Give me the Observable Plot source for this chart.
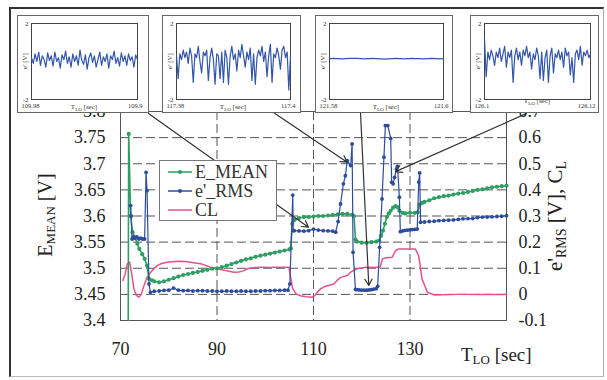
<!DOCTYPE html>
<html><head><meta charset="utf-8">
<script src="https://cdn.jsdelivr.net/npm/d3@7"></script>
<script src="https://cdn.jsdelivr.net/npm/@observablehq/plot@0.6"></script>
<style>
body{margin:0;background:#fff;}
#wrap{position:relative;width:607px;height:380px;overflow:hidden;font-family:"Liberation Serif","DejaVu Serif",serif;background:#fff;}
#wrap svg, #wrap svg text{font-family:"Liberation Serif","DejaVu Serif",serif !important;}
#border{position:absolute;left:9px;top:7px;width:595px;height:370px;border-top:2px solid #333;border-left:2px solid #333;border-right:1px solid #aaa;border-bottom:1px solid #bbb;box-sizing:border-box;}
.inset{position:absolute;background:#fff;border:1px solid #666;box-sizing:border-box;}
.inset svg{display:block;}
#legend{position:absolute;left:159px;top:160px;width:118px;height:61px;background:#fff;border:1px solid #777;box-sizing:border-box;}
#main{position:absolute;left:0;top:0;}
</style></head><body><div id="wrap"><div id="border"></div><div id="main"></div></div>
<script>
// ---------- main series (E_MEAN in left units, e'_RMS and CL in right units) ----------
const eMeanT = [71.6,71.7,72.1,72.5,73.0,73.5,73.9,74.5,75.0,75.5,75.9,76.5,77.0,78.0,79.0,80.0,81.0,82.0,83.0,84.0,85.0,86.0,87.0,88.0,89.0,90.0,91,92,93,94,95,96,97,98,99,100,101,102,103,104,105,105.3,105.6,106.0,107,108,109,110,111,112,113,114,115,116,117,118,118.4,118.7,119.0,120,121,122,123,123.6,124.0,124.4,124.8,125.2,125.6,126.0,126.5,127.0,127.4,127.8,128.5,129,130,131,131.6,132.0,132.5,133,134,135,136,137,138,139,140,141,142,143,144,145,146,147,148,149,150];
const eMeanV = [3.40,3.757,3.60,3.569,3.559,3.547,3.537,3.527,3.518,3.505,3.48,3.477,3.475,3.473,3.475,3.478,3.481,3.484,3.487,3.489,3.491,3.493,3.495,3.497,3.499,3.500,3.502,3.505,3.508,3.511,3.514,3.517,3.519,3.522,3.524,3.526,3.528,3.530,3.532,3.534,3.536,3.538,3.585,3.592,3.596,3.598,3.598,3.599,3.600,3.600,3.601,3.602,3.603,3.604,3.604,3.602,3.600,3.555,3.551,3.549,3.549,3.550,3.551,3.553,3.562,3.572,3.585,3.598,3.605,3.610,3.616,3.619,3.617,3.610,3.606,3.605,3.606,3.606,3.607,3.622,3.625,3.627,3.630,3.634,3.636,3.638,3.639,3.641,3.643,3.644,3.646,3.648,3.650,3.651,3.653,3.655,3.656,3.657,3.658];

const eRmsT = [72.1,72.2,72.4,72.6,73.0,73.4,73.8,74.2,74.6,75.0,75.3,75.5,75.9,76.2,77,78,79,80,81,82,83,84,85,86,87,88,89,90,91,92,93,94,95,96,97,98,99,100,101,102,103,104,104.7,105.1,105.7,105.8,106,107,108,109,110,111,112,113,114,114.6,115.1,115.6,116.2,116.6,117.0,117.7,118.0,118.2,118.7,119,119.5,120,120.5,121,121.5,122,122.5,123,123.3,123.7,124.2,124.6,124.9,125.4,126.0,126.2,126.5,126.8,127.2,127.4,127.8,128.0,128.5,129,129.5,130,130.5,131,131.5,131.8,132.0,132.2,133,134,135,136,137,138,139,140,141,142,143,144,145,146,147,148,149,150];
const eRmsV = [0.34,0.30,0.212,0.22,0.215,0.22,0.212,0.215,0.212,0.212,0.467,0.397,0.04,0.008,0.012,0.013,0.015,0.016,0.024,0.016,0.014,0.015,0.013,0.014,0.014,0.013,0.013,0.012,0.012,0.013,0.012,0.012,0.013,0.012,0.012,0.013,0.013,0.014,0.014,0.015,0.015,0.016,0.016,0.04,0.38,0.244,0.244,0.243,0.242,0.244,0.25,0.246,0.244,0.243,0.242,0.238,0.279,0.346,0.423,0.454,0.512,0.493,0.576,0.161,0.019,0.018,0.017,0.016,0.016,0.016,0.017,0.018,0.02,0.022,0.031,0.18,0.365,0.525,0.646,0.646,0.597,0.429,0.423,0.448,0.48,0.49,0.372,0.24,0.243,0.245,0.246,0.247,0.248,0.249,0.25,0.43,0.465,0.276,0.277,0.279,0.28,0.282,0.283,0.284,0.285,0.287,0.289,0.29,0.29,0.294,0.296,0.296,0.297,0.298,0.299,0.301];

const clT = [70.5,71.0,71.4,71.9,72.3,72.8,73.3,73.8,74.3,74.8,75.5,76.5,77.6,78.5,79.7,80.5,81.5,82.4,83.5,84.5,85.5,86.6,87.5,88.5,90,91,92,93.5,94.5,95.5,96.3,97,98,99,100,101,102,103,104,104.9,105.3,105.7,106.5,107.5,108.5,109.7,110.3,110.8,111.5,112.3,113.3,114.2,114.9,115.5,116.2,117,117.7,118.4,119.1,120.8,123.0,123.8,124.3,125,126.3,127.0,127.7,131.1,131.8,132.5,133.6,135,140,145,150];
const clV = [0.053,0.08,0.117,0.123,0.08,0.02,-0.004,-0.011,0.0,0.03,0.066,0.09,0.11,0.118,0.123,0.125,0.126,0.127,0.126,0.123,0.12,0.117,0.112,0.105,0.098,0.094,0.09,0.085,0.086,0.09,0.098,0.101,0.103,0.104,0.104,0.103,0.104,0.104,0.104,0.104,0.06,0.021,0.0,-0.006,-0.009,-0.011,-0.005,0.008,0.022,0.03,0.035,0.04,0.053,0.064,0.068,0.072,0.085,0.092,0.098,0.104,0.103,0.105,0.136,0.14,0.142,0.168,0.174,0.174,0.148,0.059,0.008,-0.002,0.0,0.0,0.0];

const xTicks = [70,90,110,130];
const xGrid = [90,110,130];
const leftTicks = [3.4,3.45,3.5,3.55,3.6,3.65,3.7,3.75,3.8];
const rightTicks = [-0.1,0,0.1,0.2,0.3,0.4,0.5,0.6,0.7];

// arrows from the insets (start in time / E units, end near curves)
const arrowX1 = [75.8,101.7,119.74,154.1];
const arrowY1 = [3.796,3.798,3.798,3.796];
const arrowX2 = [108.96,116.98,121.46,127.0];
const arrowY2 = [3.5786,3.703,3.467,3.685];

// ---------- insets ----------
const insetTickLabels = [["109.98","109.9"],["117.38","117.4"],["121.58","121.6"],["126.1","126.12"]];
const inset1 = [0.2,-0.1,0.4,0.0,0.5,-0.2,0.3,0.1,-0.3,0.45,0.05,0.3,-0.25,0.5,0.0,0.2,-0.35,0.35,0.1,0.55,-0.1,0.25,-0.3,0.4,0.0,0.3,-0.2,0.6,0.05,-0.15,0.35,-0.4,0.2,0.45,-0.05,0.3,-0.3,0.1,0.5,-0.2,0.25,0.0,0.4,-0.35,0.3,0.1,0.55,-0.1,0.2,-0.25,0.45,0.0,0.3,-0.2,0.4,0.05,0.25,-0.3,0.35,0.1];
const inset2 = [0.3,-0.9,0.4,0.1,0.6,0.2,0.5,-0.1,0.7,0.3,-1.1,0.4,0.2,0.8,0.0,-0.6,0.5,0.3,0.6,-1.0,0.2,0.7,0.1,-1.2,0.4,0.3,-0.9,0.5,-1.1,0.6,0.2,-1.2,0.3,0.8,0.1,0.4,-0.5,0.6,0.2,0.9,0.3,-0.3,0.5,0.1,0.7,-1.0,0.4,-1.2,0.2,0.6,0.3,0.8,0.0,0.5,-0.8,0.3,0.9,-1.1,0.4,0.2,0.7,0.3,-0.4,0.6,0.8,0.2,0.5,-1.5,0.3];
const inset3 = [0.15,0.16,0.15,0.14,0.15,0.16,0.17,0.16,0.15,0.14,0.15,0.16,0.15,0.14,0.13,0.14,0.15,0.16,0.15,0.14,0.15,0.16,0.15,0.15,0.14,0.15,0.16,0.15,0.14,0.15];
const inset4 = [1.2,-0.8,0.5,0.1,0.6,0.3,-0.2,0.5,0.2,0.7,0.0,0.4,0.8,-0.3,0.5,0.2,0.6,-1.1,0.3,0.7,0.1,0.5,-0.2,0.6,0.3,0.8,0.2,0.5,-0.4,0.4,0.1,0.7,0.3,-0.9,0.5,-1.0,0.2,0.6,-1.1,0.3,0.7,-0.6,0.4,0.2,0.6,0.1,0.5,-0.3,0.7,0.3,0.5,-0.7,0.2,-1.1,0.4,0.6,0.1,0.8,-0.2,0.5,0.3,0.6,0.2,0.4];

// ---------- build ----------
const GREEN = "#2f9e62", BLUE = "#2c4d9e", PINK = "#ea4f8a";
const toL = r => 3.4 + (r + 0.1) / 2;          // right axis -> left axis units
const fromL = v => (v - 3.4) * 2 - 0.1;

const eMean = eMeanT.map((t,i)=>({t, v:eMeanV[i]}));
const eRms = eRmsT.map((t,i)=>({t, v:toL(eRmsV[i])}));
const cl = clT.map((t,i)=>({t, v:toL(clV[i])}));
const arrows = arrowX1.map((x,i)=>({x1:x, y1:arrowY1[i], x2:arrowX2[i], y2:arrowY2[i]}));

const serif = "'Liberation Serif', 'DejaVu Serif', serif";
const main = Plot.plot({
  width:607, height:380,
  marginLeft:120, marginRight:101, marginTop:111, marginBottom:60,
  x:{domain:[70,150]},
  y:{domain:[3.4,3.8]},
  style:{fontFamily:serif, fontSize:"18px", background:"transparent", color:"#222", overflow:"visible"},
  marks:[
    Plot.gridY(leftTicks.slice(1,-1), {stroke:"#555", strokeOpacity:1, strokeDasharray:"9,4"}),
    Plot.gridX(xGrid, {stroke:"#555", strokeOpacity:1, strokeDasharray:"9,4"}),
    Plot.frame({stroke:"#555"}),
    Plot.line(cl, {x:"t", y:"v", stroke:PINK, strokeWidth:1.5}),
    Plot.line(eMean, {x:"t", y:"v", stroke:GREEN, strokeWidth:1.6}),
    Plot.dot(eMean.slice(1), {x:"t", y:"v", fill:GREEN, r:2.1}),
    Plot.line(eRms, {x:"t", y:"v", stroke:BLUE, strokeWidth:1.2}),
    Plot.dot(eRms, {x:"t", y:"v", fill:BLUE, r:1.9}),
    Plot.arrow(arrows, {x1:"x1", y1:"y1", x2:"x2", y2:"y2", stroke:"#333", strokeWidth:1.2, headLength:9}),
    Plot.axisY({ticks:leftTicks, tickSize:0, tickPadding:15, label:null, tickFormat:d=>String(+d.toFixed(2))}),
    Plot.axisY({anchor:"right", ticks:rightTicks.map(toL), tickSize:0, tickPadding:12, label:null, tickFormat:d=>String(+fromL(d).toFixed(1))}),
    Plot.axisX({ticks:xTicks, tickSize:0, tickPadding:22, label:null})
  ]
});
document.getElementById("main").appendChild(main);

// axis titles with subscripts
const svg = d3.select(main);
const lt = svg.append("text").attr("transform","translate(52,215) rotate(-90)").attr("text-anchor","middle")
  .attr("font-size",20).attr("fill","#222");
lt.append("tspan").text("E");
lt.append("tspan").attr("font-size",13).attr("dy",3).text("MEAN");
lt.append("tspan").attr("dy",-3).text(" [V]");
const rt = svg.append("text").attr("transform","translate(562,216) rotate(-90)").attr("text-anchor","middle")
  .attr("font-size",21).attr("fill","#222");
rt.append("tspan").text("e'");
rt.append("tspan").attr("font-size",14).attr("dy",4).text("RMS");
rt.append("tspan").attr("dy",-4).text(" [V], C");
rt.append("tspan").attr("font-size",14).attr("dy",4).text("L");
const xt = svg.append("text").attr("x",461).attr("y",361).attr("text-anchor","start").attr("font-size",19).attr("fill","#222");
xt.append("tspan").text("T");
xt.append("tspan").attr("font-size",13).attr("dy",3).text("LO");
xt.append("tspan").attr("dy",-3).text(" [sec]");

// legend
const leg = d3.select("#wrap").append("div").attr("id","legend");
const lsvg = leg.append("svg").attr("width",116).attr("height",59);
[["E_MEAN",GREEN,true],["e'_RMS",BLUE,true],["CL",PINK,false]].forEach(([name,col,dot],i)=>{
  const y = 11 + i*19;
  lsvg.append("line").attr("x1",8).attr("x2",32).attr("y1",y).attr("y2",y).attr("stroke",col).attr("stroke-width",1.5);
  if (dot) lsvg.append("circle").attr("cx",20).attr("cy",y).attr("r",2).attr("fill",col);
  lsvg.append("text").attr("x",35).attr("y",y+6).attr("font-size",18).attr("fill","#333").text(name);
});

// insets
const insetBoxes = [
  {left:17, top:15, w:132, h:98, mL:13, mR:11, mT:7, mB:13, data:inset1, tdy:0},
  {left:162, top:15, w:139, h:98, mL:13, mR:10, mT:7, mB:13, data:inset2, tdy:0},
  {left:315, top:15, w:138, h:98, mL:13, mR:9, mT:7, mB:13, data:inset3, tdy:0},
  {left:470, top:15, w:129, h:98, mL:13, mR:8, mT:7, mB:13, data:inset4, tdy:-6}
];
insetBoxes.forEach((b,k)=>{
  const div = d3.select("#wrap").append("div").attr("class","inset")
    .style("left",b.left+"px").style("top",b.top+"px").style("width",b.w+"px").style("height",b.h+"px");
  const n = b.data.length - 1;
  const labs = insetTickLabels[k];
  const p = Plot.plot({
    width:b.w-2, height:b.h-2, marginLeft:b.mL, marginRight:b.mR, marginTop:b.mT, marginBottom:b.mB,
    x:{domain:[0,n], axis:null}, y:{domain:[-2,2]},
    style:{fontFamily:serif, fontSize:"7px", background:"#fff", color:"#333"},
    marks:[
      Plot.frame({stroke:"#444"}),
      Plot.line(b.data, {x:(d,i)=>i, y:d=>d, stroke:"#3355aa", strokeWidth:1.2}),
      Plot.axisY({ticks:[-2,2], tickSize:0, tickPadding:3, label:null, fontSize:7, tickFormat:d=>String(d)}),
      Plot.text([labs[0]], {frameAnchor:"bottom-left", text:d=>d, textAnchor:"start", dx:-10, dy:8, fontSize:6.5}),
      Plot.text([labs[1]], {frameAnchor:"bottom-right", text:d=>d, textAnchor:"end", dx:5, dy:8, fontSize:6.5})
    ]
  });
  div.node().appendChild(p);
  const s = d3.select(p);
  const w = b.w-2, h = b.h-2;
  s.append("text").attr("transform",`translate(${b.mL-4},${(b.mT + h - b.mB)/2}) rotate(-90)`).attr("text-anchor","middle")
    .attr("font-size",7).attr("fill","#333").text("e' [V]");
  const tl = s.append("text").attr("x",(b.mL + w - b.mR)/2).attr("y",h-3+b.tdy).attr("text-anchor","middle")
    .attr("font-size",7).attr("fill","#333");
  tl.append("tspan").text("T");
  tl.append("tspan").attr("font-size",5).attr("dy",1.5).text("LO");
  tl.append("tspan").attr("dy",-1.5).text(" [sec]");
});
</script></body></html>
